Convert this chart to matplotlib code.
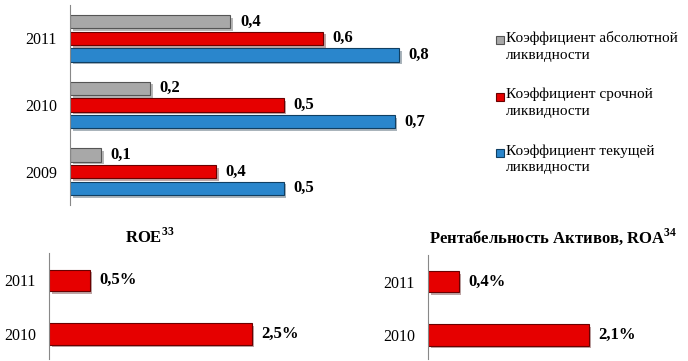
import matplotlib
matplotlib.use("Agg")
import matplotlib.pyplot as plt
import matplotlib.patheffects as pe
from matplotlib.patches import Rectangle

plt.rcParams["font.family"] = ["Liberation Serif", "DejaVu Serif"]
plt.rcParams["mathtext.fontset"] = "custom"
plt.rcParams["mathtext.rm"] = "Liberation Serif:bold"
plt.rcParams["mathtext.bf"] = "Liberation Serif:bold"

# liquidity ratios (top chart)
years = ["2009", "2010", "2011"]
series_names = ["Коэффициент абсолютной\nликвидности",
                "Коэффициент срочной\nликвидности",
                "Коэффициент текущей\nликвидности"]
abs_liq = [0.075, 0.195, 0.39]
quick_liq = [0.355, 0.52, 0.615]
curr_liq = [0.52, 0.79, 0.80]
abs_lbl = ["0,1", "0,2", "0,4"]
quick_lbl = ["0,4", "0,5", "0,6"]
curr_lbl = ["0,5", "0,7", "0,8"]

# profitability (bottom charts)
prof_years = ["2010", "2011"]
roe = [2.5, 0.5]
roe_lbl = ["2,5%", "0,5%"]
roa = [2.1, 0.4]
roa_lbl = ["2,1%", "0,4%"]

GRAY, RED, BLUE = "#a8a8a8", "#e60000", "#2a86cc"
EDGES = {GRAY: "#555555", RED: "#6a0000", BLUE: "#103f62"}
W, H = 688, 361


def px_axes(fig, left, top, right, bottom):
    return fig.add_axes([left / W, 1 - bottom / H, (right - left) / W, (bottom - top) / H])


def style(ax):
    for s in ("top", "right", "bottom"):
        ax.spines[s].set_visible(False)
    ax.spines["left"].set_color("#888888")
    ax.tick_params(left=False, bottom=False, labelsize=11.5, pad=6)
    ax.set_xticks([])


def bars(ax, ys, vals, labels, color, height, fs=12):
    b = ax.barh(ys, vals, height=height, color=color, edgecolor=EDGES[color], linewidth=0.8)
    for p in b:
        p.set_path_effects([pe.SimplePatchShadow(offset=(2, -2), alpha=0.35), pe.Normal()])
    for y, v, t in zip(ys, vals, labels):
        ax.annotate(t, (v, y), xytext=(7, 0), textcoords="offset points", va="center",
                    ha="left", fontsize=fs, fontweight="bold")


fig = plt.figure(figsize=(W / 100, H / 100), dpi=100)

# top: liquidity
ax = px_axes(fig, 70, 5, 490, 205)
pos = list(range(len(years)))
bars(ax, [p + 0.25 for p in pos], abs_liq, abs_lbl, GRAY, 0.2)
bars(ax, pos, quick_liq, quick_lbl, RED, 0.2)
bars(ax, [p - 0.25 for p in pos], curr_liq, curr_lbl, BLUE, 0.2)
ax.set_xlim(0, 420 / 411)
ax.set_ylim(-0.5, 2.5)
ax.set_yticks(pos)
ax.set_yticklabels(years)
style(ax)

# legend drawn by hand so markers sit on the first line of each entry
for i, (name, c) in enumerate(zip(series_names, [GRAY, RED, BLUE])):
    y = 40 + i * 56.5
    fig.patches.append(Rectangle((496 / W, 1 - (y + 4) / H), 8 / W, 8 / H,
                                 transform=fig.transFigure, facecolor=c,
                                 edgecolor=EDGES[c], linewidth=0.8))
    fig.text(506 / W, 1 - (y - 9) / H, name, fontsize=11, va="top", ha="left",
             linespacing=1.4)

# bottom left: ROE
ax2 = px_axes(fig, 49, 253, 330, 359)
bars(ax2, [0, 1], roe, roe_lbl, RED, 0.4)
ax2.set_xlim(0, 281 / 81)
ax2.set_ylim(-0.47, 1.51)
ax2.set_yticks([0, 1])
ax2.set_yticklabels(prof_years)
style(ax2)
fig.text(150 / W, 1 - 237 / H, r"ROE$^{33}$", fontsize=12, fontweight="bold",
         ha="center", va="center")

# bottom right: ROA
ax3 = px_axes(fig, 428, 255, 688, 359)
bars(ax3, [0, 1], roa, roa_lbl, RED, 0.4)
ax3.set_xlim(0, 260 / 76.5)
ax3.set_ylim(-0.45, 1.5)
ax3.set_yticks([0, 1])
ax3.set_yticklabels(prof_years)
style(ax3)
fig.text(553 / W, 1 - 237 / H, r"Рентабельность Активов, ROA$^{34}$", fontsize=12,
         fontweight="bold", ha="center", va="center")

fig.savefig("out.png", dpi=100)
